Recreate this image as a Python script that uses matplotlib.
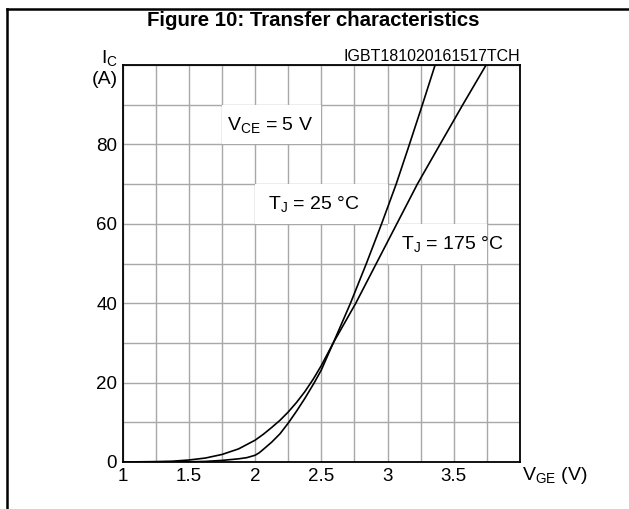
import numpy as np
import matplotlib
matplotlib.use("Agg")
import matplotlib.pyplot as plt
from matplotlib.lines import Line2D
from matplotlib.patches import Rectangle

plt.rcParams['font.family'] = ['Liberation Sans', 'DejaVu Sans']
plt.rcParams['mathtext.fontset'] = 'custom'
plt.rcParams['mathtext.rm'] = 'Liberation Sans'
plt.rcParams['mathtext.it'] = 'Liberation Sans'

# Data
vge_25 = [1.0, 1.25, 1.5, 1.625, 1.75, 1.8125, 1.875, 1.9375, 2.0, 2.03, 2.0625,
          2.125, 2.1875, 2.25, 2.3125, 2.375, 2.447, 2.5, 2.59, 2.72, 2.84,
          2.955, 3.065, 3.165, 3.263, 3.359]
ic_25 = [0.0, 0.0, 0.05, 0.15, 0.4, 0.6, 0.8, 1.1, 1.7, 2.3, 3.2,
         5.0, 7.1, 9.8, 12.8, 16.0, 20.0, 23.2, 30.0, 40.0, 50.0,
         60.0, 70.0, 80.0, 90.0, 100.0]

vge_175 = [1.0, 1.25, 1.375, 1.5, 1.625, 1.75, 1.875, 2.0, 2.0625, 2.125, 2.1875,
           2.25, 2.3125, 2.375, 2.4375, 2.5, 2.59, 2.76, 2.915, 3.07, 3.225,
           3.396, 3.568, 3.744]
ic_175 = [0.0, 0.1, 0.2, 0.5, 1.0, 1.9, 3.3, 5.5, 7.0, 8.7, 10.5,
          12.6, 15.0, 17.7, 20.8, 24.3, 30.0, 40.0, 50.0, 60.0, 70.0,
          80.0, 90.0, 100.0]

x_ticks = [1, 1.25, 1.5, 1.75, 2, 2.25, 2.5, 2.75, 3, 3.25, 3.5, 3.75, 4]
x_labels = ['1', '', '1.5', '', '2', '', '2.5', '', '3', '', '3.5', '', '']
y_ticks = [0, 10, 20, 30, 40, 50, 60, 70, 80, 90, 100]
y_labels = ['0', '', '20', '', '40', '', '60', '', '80', '', '']

W, H = 629, 509
fig = plt.figure(figsize=(W / 100, H / 100), dpi=100)
ax = fig.add_axes([122.7 / W, 1 - 462 / H, (520 - 122.7) / W, (462 - 65) / H])
ax.set_xlim(1, 4)
ax.set_ylim(0, 100)
ax.set_xticks(x_ticks)
ax.set_xticklabels(x_labels)
ax.set_yticks(y_ticks)
ax.set_yticklabels(y_labels)
ax.tick_params(length=0, pad=4, labelsize=13.5)
ax.grid(True, color='#a8a8a8', lw=1.0, zorder=1)
ax.set_axisbelow(True)
for s in ax.spines.values():
    s.set_linewidth(1.3)
    s.set_color('black')
    s.set_zorder(5)

# white label boxes hiding grid
for (x0, y0, w, h) in [(1.75, 80, 0.75, 10), (2.0, 60, 1.0, 10), (3.0, 50, 0.75, 10)]:
    ax.add_patch(Rectangle((x0, y0), w, h, facecolor='white', edgecolor='none', zorder=1.5))

ax.plot(vge_25, ic_25, color='black', lw=1.2, zorder=3, solid_joinstyle='round')
ax.plot(vge_175, ic_175, color='black', lw=1.2, zorder=3, solid_joinstyle='round')

fs = 14
ax.text(1.785, 85, r'V$_{\mathrm{CE}}$ = 5 V', fontsize=fs, va='center', ha='left', zorder=4)
ax.text(2.1, 65, r'T$_{\mathrm{J}}$ = 25 °C', fontsize=fs, va='center', ha='left', zorder=4)
ax.text(3.1, 55, r'T$_{\mathrm{J}}$ = 175 °C', fontsize=fs, va='center', ha='left', zorder=4)

fig.text(520 / W, 1 - 64 / H, 'IGBT181020161517TCH', fontsize=11.5, ha='right', va='bottom')
fig.text(522 / W, 1 - 476 / H, r'V$_{\mathrm{GE}}$ (V)', fontsize=fs, ha='left', va='center')
fig.text(118 / W, 1 - 58 / H, r'I$_{\mathrm{C}}$', fontsize=fs, ha='right', va='center')
fig.text(118 / W, 1 - 80 / H, '(A)', fontsize=fs, ha='right', va='center')

fig.text(313 / W, 1 - 21 / H, 'Figure 10: Transfer characteristics', fontsize=14.7,
         fontweight='bold', ha='center', va='center')

# outer frame (left and top)
fig.add_artist(Line2D([7 / W, 7 / W], [0, 1 - 9 / H], transform=fig.transFigure,
                      color='black', lw=1.8))
fig.add_artist(Line2D([7 / W, 1], [1 - 9 / H, 1 - 9 / H], transform=fig.transFigure,
                      color='black', lw=1.8))

fig.savefig('out.png', dpi=100)
